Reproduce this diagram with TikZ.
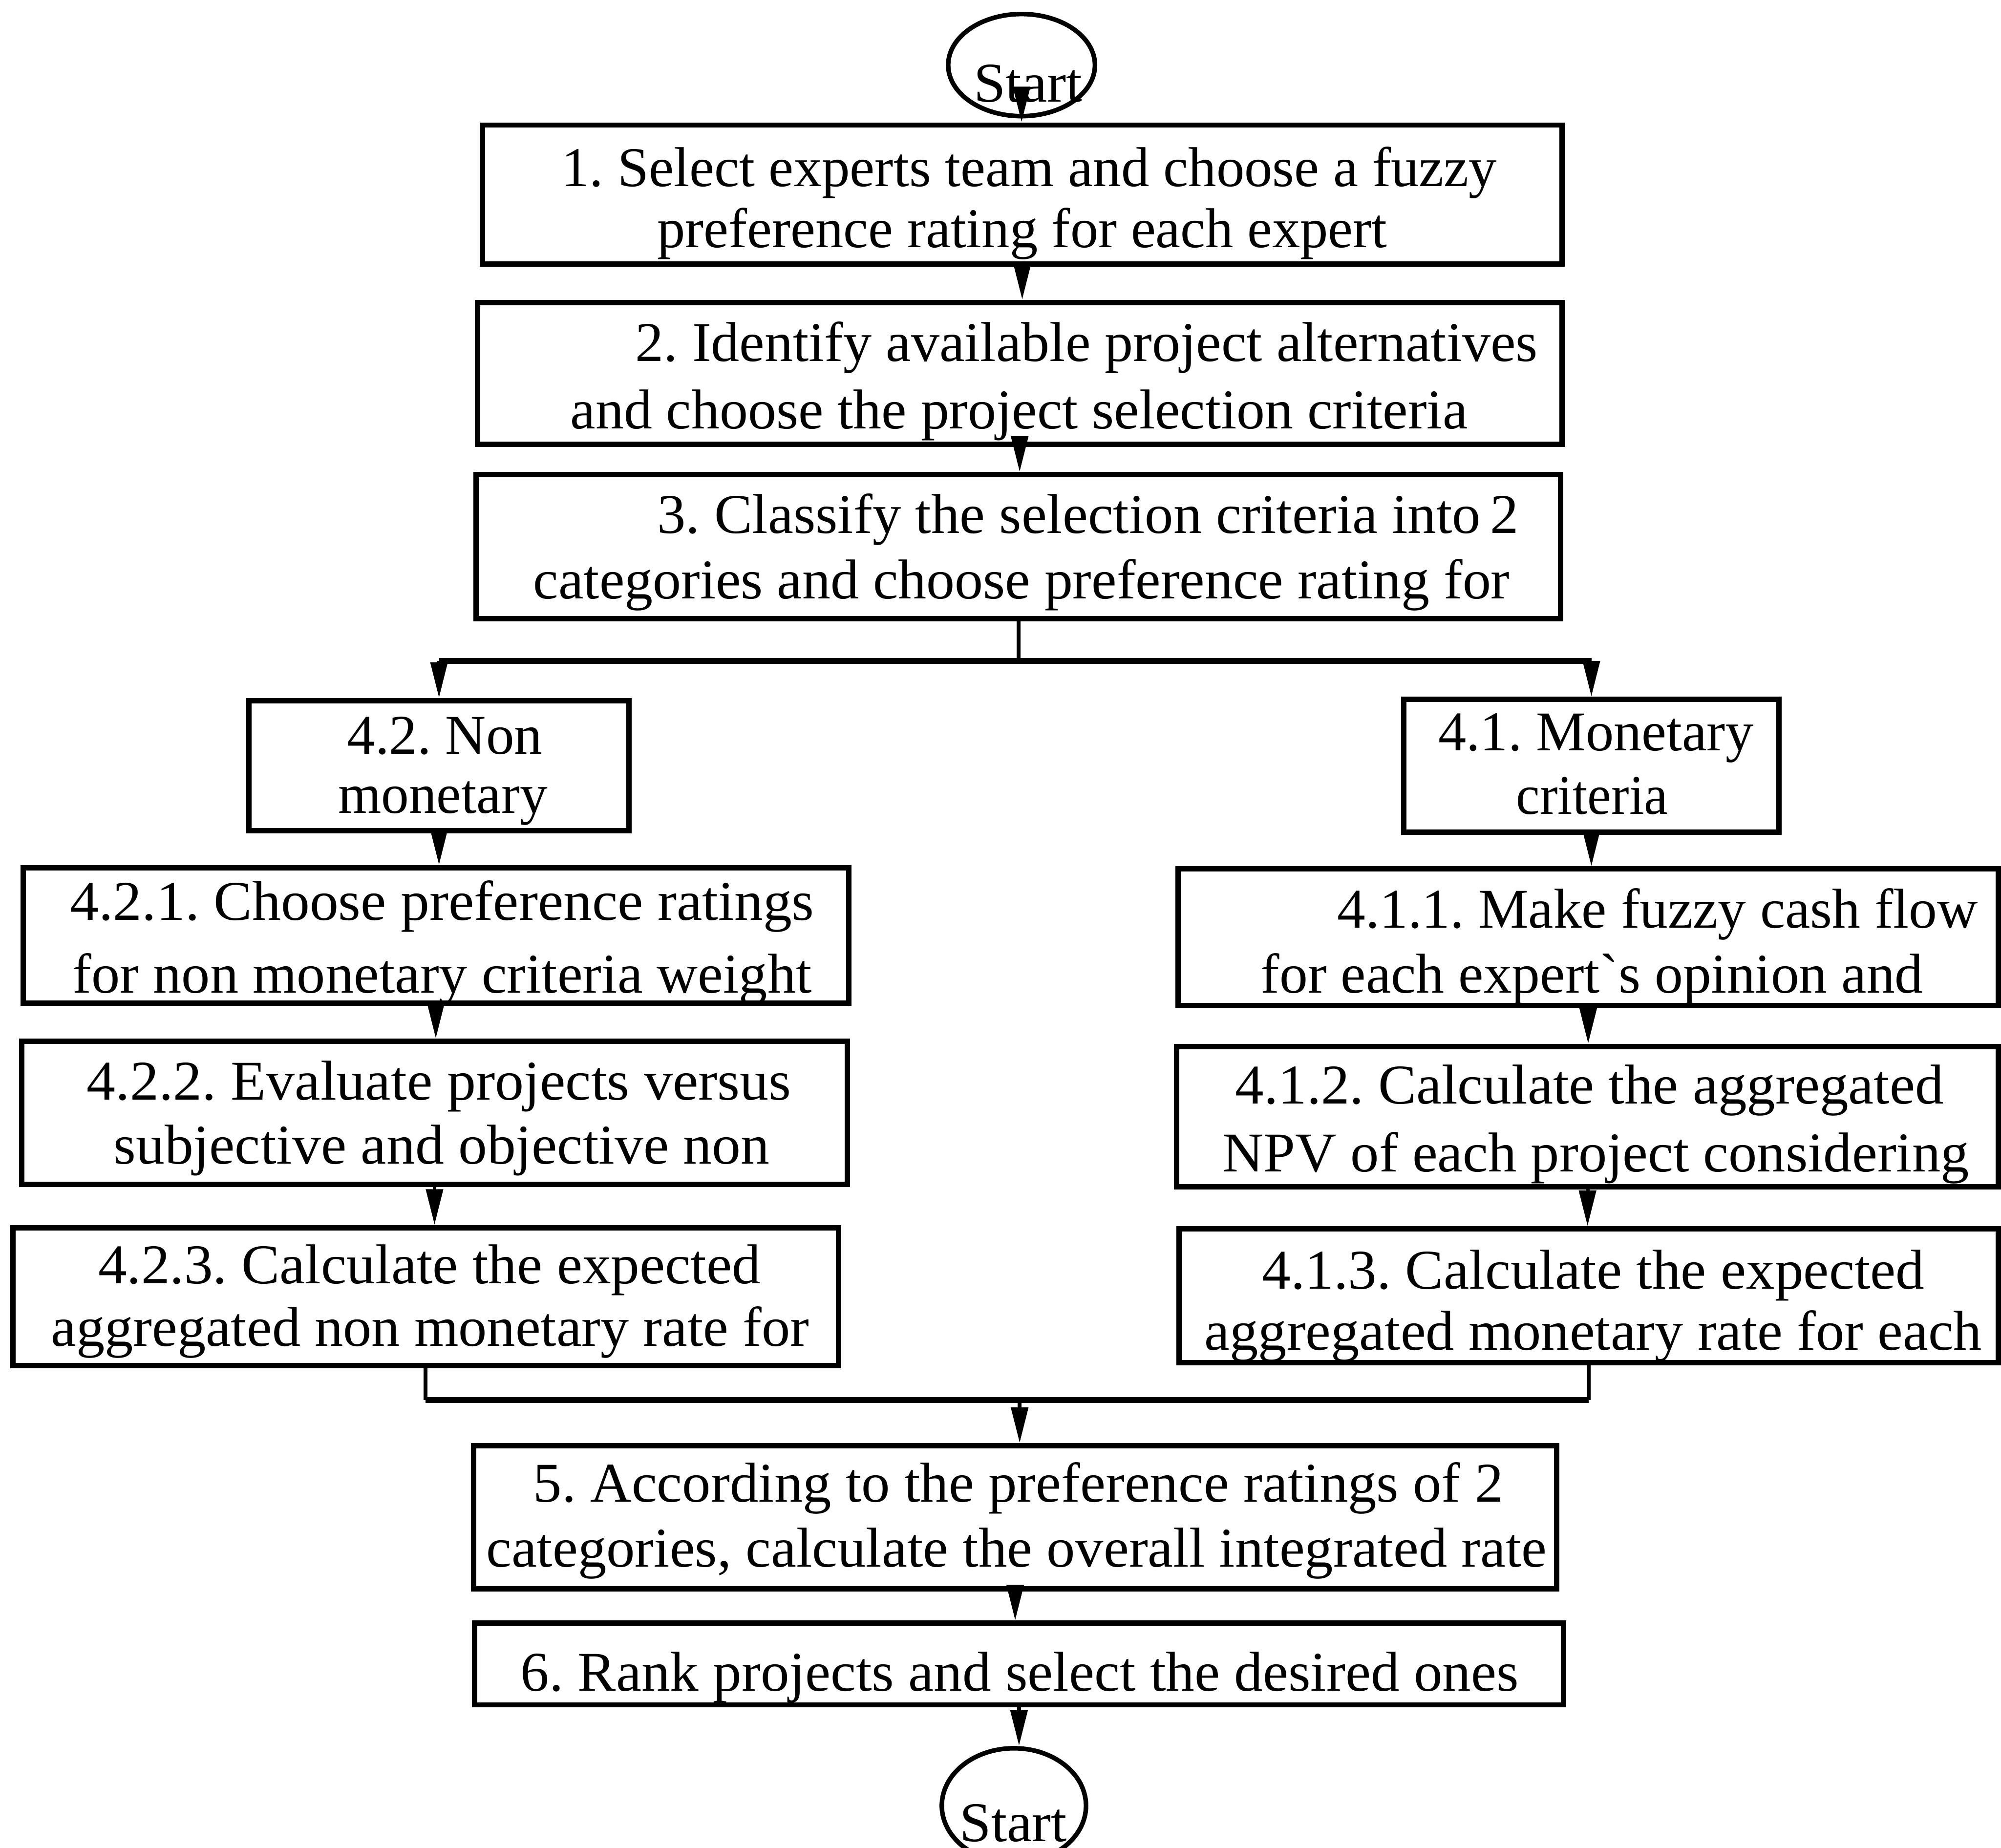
\documentclass[tikz,border=0pt]{standalone}
\usepackage{fontspec}
\usepackage{graphicx}
\setmainfont{Liberation Serif}
\usetikzlibrary{arrows.meta,shapes.geometric}
\newsavebox\fitbox
\newcommand\fitw[2]{\sbox\fitbox{\frenchspacing #2}\pgfmathsetmacro\fitfac{#1/\the\wd\fitbox}\scalebox{\fitfac}[1]{\usebox\fitbox}}
\tikzset{
  box/.style={draw, line width=4.2pt, rectangle, inner sep=0pt},
  oval/.style={draw, line width=3.6pt, ellipse, inner sep=0pt},
  txt/.style={inner sep=0pt, anchor=base, font=\fontsize{44}{50}\selectfont},
  conn/.style={line width=3pt},
  branch/.style={line width=4.5pt},
  arr/.style={line width=3pt, -{Triangle[length=28pt,width=13pt]}}
}
\begin{document}
\begin{tikzpicture}[x=1pt,y=-1pt]
\useasboundingbox (0,0) rectangle (1568,1448);
\fill[white] (0,0) rectangle (1568,1448);
% start / end ovals
\node[oval, minimum width=115pt, minimum height=80pt] (S1) at (800.5,51) {};
\node[oval, minimum width=113pt, minimum height=90pt] (S2) at (794.5,1415) {};
% boxes
\node[box, minimum width=846pt, minimum height=109pt] (B1) at (801,152.5) {};
\node[box, minimum width=850pt, minimum height=111pt] (B2) at (799,292.5) {};
\node[box, minimum width=850pt, minimum height=113pt] (B3) at (798,428.5) {};
\node[box, minimum width=298pt, minimum height=102pt] (B42) at (344,600) {};
\node[box, minimum width=294pt, minimum height=104pt] (B41) at (1247,600) {};
\node[box, minimum width=647pt, minimum height=106pt] (B421) at (341.5,733) {};
\node[box, minimum width=647pt, minimum height=112pt] (B422) at (340.5,872) {};
\node[box, minimum width=647pt, minimum height=108pt] (B423) at (333.5,1016) {};
\node[box, minimum width=643pt, minimum height=107pt] (B411) at (1244.5,734.5) {};
\node[box, minimum width=644pt, minimum height=110pt] (B412) at (1244,875) {};
\node[box, minimum width=642pt, minimum height=105pt] (B413) at (1245,1015.5) {};
\node[box, minimum width=849pt, minimum height=112pt] (B5) at (795.5,1189) {};
\node[box, minimum width=853pt, minimum height=64pt] (B6) at (798.5,1304) {};
% texts
\node[txt] (tS1) at (805.5,80) {\fitw{85}{Start}};
\node[txt] (tS2) at (794,1443) {\fitw{84}{Start}};
\node[txt] (t1a) at (806.5,146) {\fitw{733}{1. Select experts team and choose a fuzzy}};
\node[txt] (t1b) at (801,194) {\fitw{572}{preference rating for each expert}};
\node[txt] (t2a) at (851.5,283) {\fitw{707}{2. Identify available project alternatives}};
\node[txt] (t2b) at (798.5,336) {\fitw{703}{and choose the project selection criteria}};
\node[txt] (t3a) at (852.5,418) {\fitw{675}{3. Classify the selection criteria into\,2}};
\node[txt] (t3b) at (800.5,469) {\fitw{765}{categories and choose preference rating for}};
\node[txt] (t42a) at (348.5,591) {\fitw{153}{4.2. Non}};
\node[txt] (t42b) at (347,637) {\fitw{164}{monetary}};
\node[txt] (t41a) at (1250.5,588) {\fitw{247}{4.1. Monetary}};
\node[txt] (t41b) at (1247.5,638) {\fitw{119}{criteria}};
\node[txt] (t421a) at (346.5,721) {\fitw{583}{4.2.1. Choose preference ratings}};
\node[txt] (t421b) at (346.5,778) {\fitw{579}{for non monetary criteria weight}};
\node[txt] (t422a) at (344,862) {\fitw{552}{4.2.2. Evaluate projects versus}};
\node[txt] (t422b) at (346,912) {\fitw{514}{subjective and objective non}};
\node[txt] (t423a) at (336.5,1006) {\fitw{519}{4.2.3. Calculate the expected}};
\node[txt] (t423b) at (337,1055) {\fitw{594}{aggregated non monetary rate for}};
\node[txt] (t411a) at (1299,727) {\fitw{502}{4.1.1. Make fuzzy cash flow}};
\node[txt] (t411b) at (1247.5,778) {\fitw{519}{for each expert\textasciigrave s opinion and}};
\node[txt] (t412a) at (1245.5,865) {\fitw{555}{4.1.2. Calculate the aggregated}};
\node[txt] (t412b) at (1250.5,918) {\fitw{585}{NPV of each project considering}};
\node[txt] (t413a) at (1248.5,1010) {\fitw{519}{4.1.3. Calculate the expected}};
\node[txt] (t413b) at (1248.5,1058) {\fitw{609}{aggregated monetary rate for each}};
\node[txt] (t5a) at (798,1177) {\fitw{760}{5. According to the preference ratings of 2}};
\node[txt] (t5b) at (796.5,1228) {\fitw{831}{categories, calculate the overall integrated rate}};
\node[txt] (t6) at (799,1325) {\fitw{782}{6. Rank projects and select the desired ones}};
% connectors
\draw[arr] (S1.south) -- (S1.south |- B1.north);
\draw[arr] (B1.south) -- (B1.south |- B2.north);
\draw[arr] (B2.south) -- (B2.south |- B3.north);
\coordinate (sp) at (801,518);
\draw[conn] (B3.south) -- (B3.south |- sp);
\draw[branch] (B42.north |- sp) -- (B41.north |- sp);
\draw[arr] (B42.north |- sp) -- (B42.north);
\draw[arr] (B41.north |- sp) -- (B41.north);
\draw[arr] (B42.south) -- (B42.south |- B421.north);
\draw[arr] (B421.south) -- (B421.south |- B422.north);
\draw[arr] (B422.south) -- (B422.south |- B423.north);
\draw[arr] (B41.south) -- (B41.south |- B411.north);
\draw[arr] (B411.south) -- (B411.south |- B412.north);
\draw[arr] (B412.south) -- (B412.south |- B413.north);
\coordinate (mg) at (799,1097);
\draw[conn] (B423.south) -- (B423.south |- mg);
\draw[branch] (B423.south |- mg) -- (B413.south |- mg);
\draw[conn] (B413.south) -- (B413.south |- mg);
\draw[arr] (mg) -- (mg |- B5.north);
\draw[arr] (B5.south) -- (B5.south |- B6.north);
\draw[arr] (B6.south) -- (B6.south |- S2.north);
\end{tikzpicture}
\end{document}
